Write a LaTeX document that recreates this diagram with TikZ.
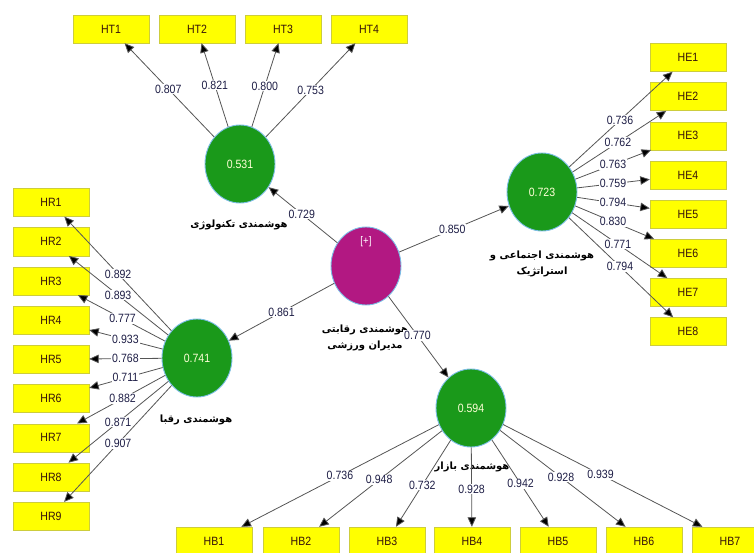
\documentclass[tikz,border=0pt]{standalone}
\usepackage{fontspec}
\setmainfont{Liberation Sans}
\newfontfamily\narrowfont{Liberation Sans}[FakeStretch=0.88]
\newfontfamily\fafont[Script=Arabic]{DejaVu Sans}
\TeXXeTstate=1
\usetikzlibrary{arrows.meta,calc,shapes.geometric}

\definecolor{indfill}{RGB}{255,255,0}
\definecolor{indline}{RGB}{205,205,60}
\definecolor{latgreen}{RGB}{26,153,26}
\definecolor{latmag}{RGB}{178,24,130}
\definecolor{latline}{RGB}{125,190,230}
\definecolor{lnk}{RGB}{85,85,85}
\definecolor{valtxt}{RGB}{30,30,70}
\definecolor{indtxt}{RGB}{55,20,10}

\tikzset{
  ind/.style={draw=indline, fill=indfill, minimum width=76pt, minimum height=28pt,
    inner sep=0pt, text=indtxt, font=\narrowfont\fontsize{12}{12}\selectfont},
  lat/.style={ellipse, draw=latline, line width=.9pt, fill=latgreen, minimum width=70pt,
    minimum height=78pt, inner sep=0pt, text={rgb,255:red,255;green,255;blue,215},
    font=\narrowfont\fontsize{12}{12}\selectfont},
  ld/.style={draw=lnk, line width=.8pt, -{Triangle[length=9.5pt,width=8.5pt,fill=black]}},
  val/.style={fill=white, inner sep=1pt, text=valtxt, font=\narrowfont\fontsize{12}{12}\selectfont},
  fa/.style={align=center, font=\fafont\bfseries\fontsize{10}{16.5}\selectfont}
}

\begin{document}
\begin{tikzpicture}[x=1pt,y=-1pt]
\clip (0,0) rectangle (754,553);

% latent variables
\node[lat, fill=latmag] (rq) at (366,266) {};
\node[text=white, font=\narrowfont\fontsize{11}{11}\selectfont] (plus) at (366,242) {[+]};
\node[lat] (tk) at (240,164) {0.531};
\node[lat] (ej) at (542,192) {0.723};
\node[lat] (rb) at (197,358) {0.741};
\node[lat] (bz) at (471,408) {0.594};

\node[fa] (tkname) at (239,225) {\beginR هوشمندی تکنولوژی\endR};
\node[fa] (rqname) at (365,338) {\beginR هوشمندی رقابتی\endR\\\beginR مدیران ورزشی\endR};
\node[fa] (ejname) at (542,264) {\beginR هوشمندی اجتماعی و\endR\\\beginR استراتژیک\endR};
\node[fa] (rbname) at (196,420) {\beginR هوشمندی رقبا\endR};
\node[fa] (bzname) at (472,467) {\beginR هوشمندی بازار\endR};

% indicators
\foreach \i/\x in {1/111,2/197,3/283,4/369}
  \node[ind] (ht\i) at (\x,29) {HT\i};
\foreach \i in {1,...,9}
  \node[ind] (hr\i) at (51,{202.5+39.2*(\i-1)}) {HR\i};
\foreach \i in {1,...,8}
  \node[ind] (he\i) at (688,{57.5+39.15*(\i-1)}) {HE\i};
\foreach \i/\x in {1/214,2/301,3/387,4/472,5/558,6/644,7/730}
  \node[ind] (hb\i) at (\x,541) {HB\i};

% inner model
\draw[ld] (rq) -- (tk) node[val] at ($(rq)!.51!(tk)$) {0.729};
\draw[ld] (rq) -- (ej) node[val] at ($(rq)!.49!(ej)$) {0.850};
\draw[ld] (rq) -- (rb) node[val] at ($(rq)!.50!(rb)$) {0.861};
\draw[ld] (rq) -- (bz) node[val] at ($(rq)!.49!(bz)$) {0.770};

% outer loadings
\foreach \i/\v/\p in {1/0.807/.556,2/0.821/.585,3/0.800/.578,4/0.753/.548}
  \draw[ld] (tk) -- (ht\i) node[val] at ($(tk)!\p!(ht\i)$) {\v};
\foreach \i/\v/\p in {1/0.892/.54,2/0.893/.54,3/0.777/.51,4/0.933/.49,5/0.768/.49,
    6/0.711/.49,7/0.882/.51,8/0.871/.54,9/0.907/.54}
  \draw[ld] (rb) -- (hr\i) node[val] at ($(rb)!\p!(hr\i)$) {\v};
\foreach \i/\v/\p in {1/0.736/.534,2/0.762/.52,3/0.763/.486,4/0.759/.486,5/0.794/.486,
    6/0.830/.486,7/0.771/.52,8/0.794/.534}
  \draw[ld] (ej) -- (he\i) node[val] at ($(ej)!\p!(he\i)$) {\v};
\foreach \i/\v/\p in {1/0.736/.51,2/0.948/.54,3/0.732/.58,4/0.928/.61,5/0.942/.57,
    6/0.928/.52,7/0.939/.50}
  \draw[ld] (bz) -- (hb\i) node[val] at ($(bz)!\p!(hb\i)$) {\v};
\end{tikzpicture}
\end{document}
